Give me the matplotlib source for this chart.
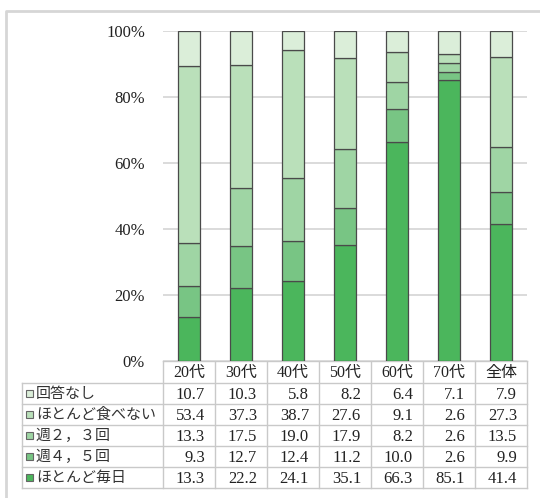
import numpy as np
import matplotlib
matplotlib.use("Agg")
import matplotlib.pyplot as plt

plt.rcParams['font.family'] = ['Liberation Serif', 'Noto Sans CJK JP']

# データ
categories = ["20代", "30代", "40代", "50代", "60代", "70代", "全体"]
series_names = ["回答なし", "ほとんど食べない", "週２，３回", "週４，５回", "ほとんど毎日"]
no_answer = [10.7, 10.3, 5.8, 8.2, 6.4, 7.1, 7.9]
rarely = [53.4, 37.3, 38.7, 27.6, 9.1, 2.6, 27.3]
week23 = [13.3, 17.5, 19.0, 17.9, 8.2, 2.6, 13.5]
week45 = [9.3, 12.7, 12.4, 11.2, 10.0, 2.6, 9.9]
daily = [13.3, 22.2, 24.1, 35.1, 66.3, 85.1, 41.4]

table_rows = [no_answer, rarely, week23, week45, daily]
colors = ["#dbeed9", "#bae0ba", "#9fd5a4", "#78c584", "#4bb65c"]

W, H = 540, 498
fig = plt.figure(figsize=(W / 100, H / 100), dpi=100)

# ---------------------
# 積み上げ棒グラフ
# ---------------------
x0, x1 = 163, 527
y100, y0 = 31, 361
ax = fig.add_axes([x0 / W, 1 - y0 / H, (x1 - x0) / W, (y0 - y100) / H])

n = len(categories)
xpos = np.arange(n) + 0.5
totals = np.sum(np.array(table_rows), axis=0)
bottom = np.zeros(n)
for vals, col in zip(table_rows[::-1], colors[::-1]):
    v = np.array(vals) / totals * 100
    ax.bar(xpos, v, width=0.42, bottom=bottom, color=col,
           edgecolor="#4a4a4a", linewidth=0.9, zorder=3)
    bottom += v

ax.set_xlim(0, n)
ax.set_ylim(0, 100)
ax.set_yticks(np.arange(0, 101, 20))
ax.set_yticklabels([f"{t}%" for t in range(0, 101, 20)], fontsize=12, color="#222222")
ax.tick_params(axis="y", length=0, pad=13)
ax.set_xticks([])
ax.yaxis.grid(True, color="#d4d4d4", linewidth=1.2, zorder=0)
for s in ax.spines.values():
    s.set_visible(False)

# ---------------------
# データテーブル
# ---------------------
tab = fig.add_axes([0, 0, 1, 1], zorder=-1)
tab.set_xlim(0, W)
tab.set_ylim(H, 0)
tab.axis("off")

# 外枠
tab.plot([6, 6, W + 5], [H + 5, 11, 11], color="#d6d6d6", lw=2)

lc = "#c9c9c9"
cw = (x1 - x0) / n
head_top, head_bot = 361, 383
rh = 21
left = 22
bot = head_bot + rh * len(series_names)

# 横線
tab.plot([x0, x1], [head_top, head_top], color=lc, lw=1)
for r in range(len(series_names) + 1):
    y = head_bot + r * rh
    tab.plot([left, x1], [y, y], color=lc, lw=1)
# 縦線
tab.plot([left, left], [head_bot, bot], color=lc, lw=1)
for c in range(n + 1):
    xx = x0 + c * cw
    tab.plot([xx, xx], [head_top, bot], color=lc, lw=1)

# 見出し
for i, cat in enumerate(categories):
    tab.text(x0 + (i + 0.5) * cw, (head_top + head_bot) / 2 + 1, cat,
             ha="center", va="center", fontsize=11.5, color="#222222")

# 行
for r, (name, vals, col) in enumerate(zip(series_names, table_rows, colors)):
    yc = head_bot + (r + 0.5) * rh
    tab.add_patch(plt.Rectangle((26, yc - 3.5), 7, 7, facecolor=col,
                                edgecolor="#666666", lw=0.8))
    tab.text(36, yc, name, ha="left", va="center", fontsize=10.8,
             color="#333333", family=['Noto Sans CJK JP'])
    for i, v in enumerate(vals):
        tab.text(x0 + (i + 1) * cw - 10, yc + 1, f"{v:.1f}", ha="right",
                 va="center", fontsize=12, color="#222222")

fig.savefig("out.png", dpi=100)
